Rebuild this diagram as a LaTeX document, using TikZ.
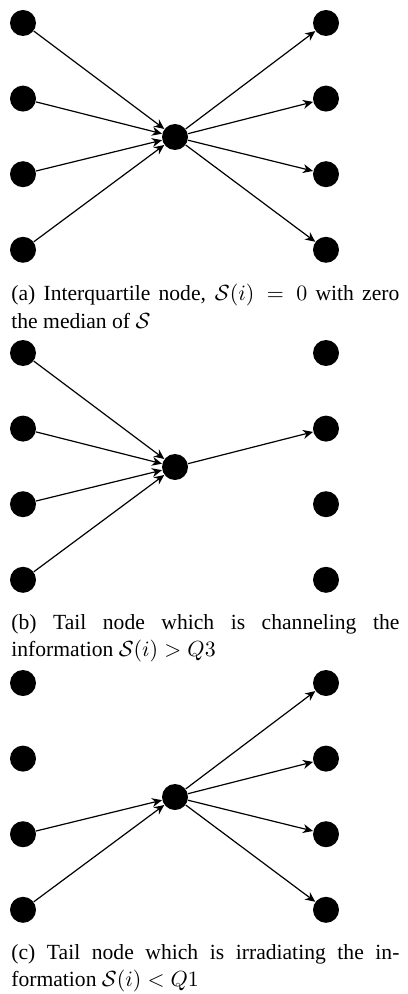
\documentclass[tikz,border=0pt]{standalone}
\usepackage{fontspec}
\setmainfont{Liberation Serif}
\usetikzlibrary{arrows.meta}

\begin{document}
\begin{tikzpicture}[x=0.5pt,y=-0.5pt,
  dot/.style={circle,fill=black,minimum size=13pt,inner sep=0pt},
  flow/.style={-{Stealth[length=5pt,width=4.5pt,inset=1.6pt]},line width=0.6pt},
  subcap/.style={anchor=north west,inner sep=0pt,text width=194pt,align=justify,
    font=\fontsize{10.8}{13.6}\selectfont}]
  \useasboundingbox (0,0) rectangle (407,994);

  % (a) interquartile node
  \begin{scope}
    \foreach \j in {1,...,4} {
      \node[dot] (la\j) at (23,{23+75.6*(\j-1)}) {};
      \node[dot] (ra\j) at (326,{23+75.6*(\j-1)}) {};
    }
    \node[dot] (ca) at (175,137) {};
    \foreach \j in {1,...,4} {
      \draw[flow] (la\j) -- (ca);
      \draw[flow] (ca) -- (ra\j);
    }
  \end{scope}
  \node[subcap] (capa) at (11,284)
    {(a) Interquartile node, $\mathcal{S}(i) = 0$ with zero\linebreak the median of $\mathcal{S}$};

  % (b) channeling tail node
  \begin{scope}[shift={(0,330)}]
    \foreach \j in {1,...,4} {
      \node[dot] (lb\j) at (23,{23+75.6*(\j-1)}) {};
      \node[dot] (rb\j) at (326,{23+75.6*(\j-1)}) {};
    }
    \node[dot] (cb) at (175,137) {};
    \foreach \j in {1,...,4}
      \draw[flow] (lb\j) -- (cb);
    \draw[flow] (cb) -- (rb2);
  \end{scope}
  \node[subcap] (capb) at (11,614)
    {(b) Tail node which is channeling the \mbox{information} $\mathcal{S}(i) > Q3$};

  % (c) irradiating tail node
  \begin{scope}[shift={(0,660)}]
    \foreach \j in {1,...,4} {
      \node[dot] (lc\j) at (23,{23+75.6*(\j-1)}) {};
      \node[dot] (rc\j) at (326,{23+75.6*(\j-1)}) {};
    }
    \node[dot] (cc) at (175,137) {};
    \draw[flow] (lc3) -- (cc);
    \draw[flow] (lc4) -- (cc);
    \foreach \j in {1,...,4}
      \draw[flow] (cc) -- (rc\j);
  \end{scope}
  \node[subcap] (capc) at (11,944)
    {(c) Tail node which is irradiating the in\-formation $\mathcal{S}(i) < Q1$};
\end{tikzpicture}
\end{document}
